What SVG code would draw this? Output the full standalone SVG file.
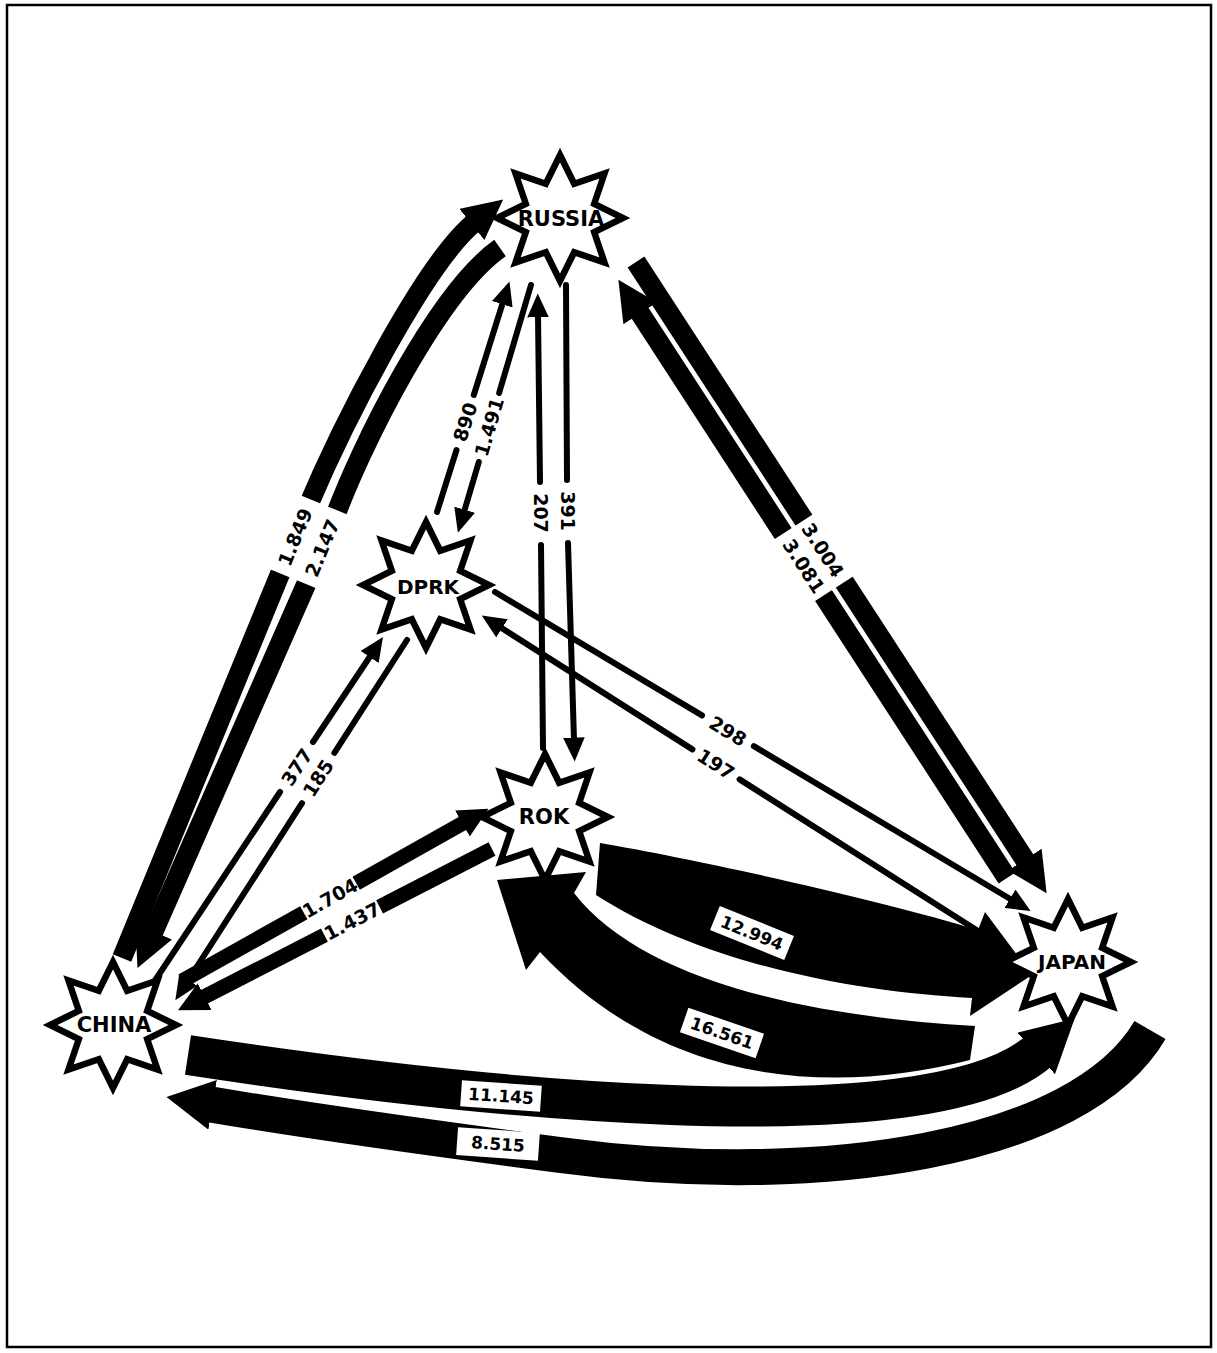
<svg xmlns="http://www.w3.org/2000/svg" width="1217" height="1353" viewBox="0 0 1217 1353">
<defs>
<style>
.frame{fill:none;stroke:#000;stroke-width:2.5}
.band{fill:none;stroke:#000;stroke-linecap:butt;stroke-linejoin:round}
.thin{fill:none;stroke:#000;stroke-width:6;stroke-linecap:round}
.solid{fill:#000}
.gap{fill:#fff}
.lbl{font-family:"DejaVu Sans","Liberation Sans",sans-serif;font-weight:bold;font-size:19px;fill:#000;text-anchor:middle;dominant-baseline:central}
.blbl{font-size:17px}
.sf{fill:#fff}
.ss{fill:none;stroke:#000;stroke-width:6.5;stroke-linejoin:miter;stroke-miterlimit:10}
.nt{font-family:"DejaVu Sans","Liberation Sans",sans-serif;font-weight:bold;font-size:20px;fill:#000;text-anchor:middle;dominant-baseline:central}
</style>
<path id="star" d="M0,-63 L14.2,-34.2 L44.5,-44.5 L34.2,-14.2 L63,0 L34.2,14.2 L44.5,44.5 L14.2,34.2 L0,63 L-14.2,34.2 L-44.5,44.5 L-34.2,14.2 L-63,0 L-34.2,-14.2 L-44.5,-44.5 L-14.2,-34.2 Z"/>
<marker id="at" viewBox="0 0 10 10" refX="1" refY="5" markerWidth="4" markerHeight="3.6" markerUnits="strokeWidth" orient="auto" preserveAspectRatio="none"><path d="M0,0 L10,5 L0,10 Z"/></marker>
<marker id="am" viewBox="0 0 10 10" refX="1" refY="5" markerWidth="2" markerHeight="2" markerUnits="strokeWidth" orient="auto" preserveAspectRatio="none"><path d="M0,0 L10,5 L0,10 Z"/></marker>
<marker id="ab" viewBox="0 0 10 10" refX="1" refY="5" markerWidth="1.3" markerHeight="1.4" markerUnits="strokeWidth" orient="auto" preserveAspectRatio="none"><path d="M0,0 L10,5 L0,10 Z"/></marker>
</defs>
<rect width="1217" height="1353" fill="#fff"/>
<rect class="frame" x="7" y="5" width="1204" height="1342"/>

<g id="connectors">
 <g id="china-russia">
  <path class="band" stroke-width="20" marker-end="url(#am)" d="M122,958 L303,518 C341,426 425,262 475,222"/>
  <path class="band" stroke-width="20" marker-end="url(#am)" d="M500,248 C440,290 362,440 330,530 L152,935"/>
  <rect class="gap" x="-40" y="-31" width="80" height="62" transform="translate(309,542) rotate(-67.6)"/>
  <text class="lbl" transform="translate(295,537) rotate(-67.6)">1.849</text>
  <text class="lbl" transform="translate(322,548) rotate(-67.6)">2.147</text>
 </g>
 <g id="russia-japan">
  <path class="band" stroke-width="20" marker-end="url(#am)" d="M636,262 L1027,863"/>
  <path class="band" stroke-width="20" marker-end="url(#am)" d="M1007,878 L638,310"/>
  <rect class="gap" x="-37" y="-29" width="74" height="58" transform="translate(813.5,558) rotate(57)"/>
  <text class="lbl" transform="translate(823,550) rotate(57)">3.004</text>
  <text class="lbl" transform="translate(804,566) rotate(57)">3.081</text>
 </g>
 <g id="russia-dprk">
  <path class="thin" d="M437,512 L456.5,450"/>
  <path class="thin" marker-end="url(#at)" d="M473.8,395 L503,302"/>
  <path class="thin" d="M531,285 L499.1,393"/>
  <path class="thin" marker-end="url(#at)" d="M478.8,462 L464,512"/>
  <text class="lbl" transform="translate(465,422) rotate(-72.5)">890</text>
  <text class="lbl" transform="translate(489,427) rotate(-73.6)">1.491</text>
 </g>
 <g id="russia-rok">
  <path class="thin" d="M543,748 L541,545"/>
  <path class="thin" marker-end="url(#at)" d="M540,482 L538,315"/>
  <path class="thin" d="M566,285 L567,480"/>
  <path class="thin" marker-end="url(#at)" d="M568,543 L574,740"/>
  <text class="lbl" transform="translate(540.5,513) rotate(90)">207</text>
  <text class="lbl" transform="translate(567.5,511) rotate(90)">391</text>
 </g>
 <g id="dprk-japan">
  <path class="thin" d="M495,592 L702,715.4"/>
  <path class="thin" marker-end="url(#at)" d="M753.8,746.2 L1012,900"/>
  <path class="thin" d="M1000,945 L739.6,779.4"/>
  <path class="thin" marker-end="url(#at)" d="M692.4,749.4 L500,627"/>
  <text class="lbl" transform="translate(728,731) rotate(30.8)">298</text>
  <text class="lbl" transform="translate(716,764) rotate(32.5)">197</text>
 </g>
 <g id="china-dprk">
  <path class="thin" d="M152,985 L280,792"/>
  <path class="thin" marker-end="url(#at)" d="M313,742 L371,655"/>
  <path class="thin" d="M407,640 L334.4,752.8"/>
  <path class="thin" marker-end="url(#at)" d="M302,803.2 L187,982"/>
  <text class="lbl" transform="translate(296.7,767) rotate(-56.4)">377</text>
  <text class="lbl" transform="translate(318,778) rotate(-57.2)">185</text>
 </g>
 <g id="china-rok">
  <path class="band" stroke-width="15" d="M182,981 L303.8,912.7"/>
  <path class="band" stroke-width="15" marker-end="url(#am)" d="M356.2,883.3 L465,822"/>
  <path class="band" stroke-width="15" d="M492,849 L379.6,906.8"/>
  <path class="band" stroke-width="15" marker-end="url(#am)" d="M324.4,935.2 L202,998"/>
  <text class="lbl" transform="translate(330,898) rotate(-29.3)">1.704</text>
  <text class="lbl" transform="translate(352,921) rotate(-27.2)">1.437</text>
 </g>
 <g id="rok-japan">
  <path class="solid" d="M600,843 C700,860 880,900 978,930 L985,912 L1032,975 L970,1016 L972,998 C850,992 700,962 596,895 Z"/>
  <path class="solid" d="M497,880 L586,872 L574,893 C640,978 800,1016 975,1026 L970,1060 C820,1098 660,1080 540,952 L526,970 Z"/>
  <rect class="gap" x="-40" y="-13" width="80" height="26" transform="translate(752,933) rotate(22)"/>
  <text class="lbl blbl" transform="translate(752,933) rotate(22)">12.994</text>
  <rect class="gap" x="-40" y="-13" width="80" height="26" transform="translate(722,1033) rotate(19)"/>
  <text class="lbl blbl" transform="translate(722,1033) rotate(19)">16.561</text>
 </g>
 <g id="china-japan">
  <path class="band" stroke-width="40" marker-end="url(#ab)" d="M188,1055 C450,1095 930,1150 1040,1050"/>
  <path class="band" stroke-width="36" marker-end="url(#ab)" d="M1150,1030 C1080,1150 820,1190 560,1155 C400,1134 290,1118 208,1104"/>
  <rect class="gap" x="-40" y="-13" width="80" height="26" transform="translate(501,1096) rotate(4)"/>
  <text class="lbl blbl" transform="translate(501,1096) rotate(4)">11.145</text>
  <rect class="gap" x="-41" y="-14" width="82" height="28" transform="translate(498,1144) rotate(4)"/>
  <text class="lbl blbl" transform="translate(498,1144) rotate(4)">8.515</text>
 </g>
</g>

<g id="russia" transform="translate(560,218)">
 <use href="#star" class="sf"/><text class="nt" x="1" y="1" style="font-size:21px">RUSSIA</text><use href="#star" class="ss"/>
</g>
<g id="dprk" transform="translate(426,585)">
 <use href="#star" class="sf"/><text class="nt" x="2" y="2">DPRK</text><use href="#star" class="ss"/>
</g>
<g id="rok" transform="translate(545,817)">
 <use href="#star" class="sf"/><text class="nt" x="-1" y="0" style="font-size:21px">ROK</text><use href="#star" class="ss"/>
</g>
<g id="japan" transform="translate(1068,962)">
 <use href="#star" class="sf"/><text class="nt" x="4" y="0">JAPAN</text><use href="#star" class="ss"/>
</g>
<g id="china" transform="translate(113,1025)">
 <use href="#star" class="sf"/><text class="nt" x="1" y="0" style="font-size:21px">CHINA</text><use href="#star" class="ss"/>
</g>
</svg>
